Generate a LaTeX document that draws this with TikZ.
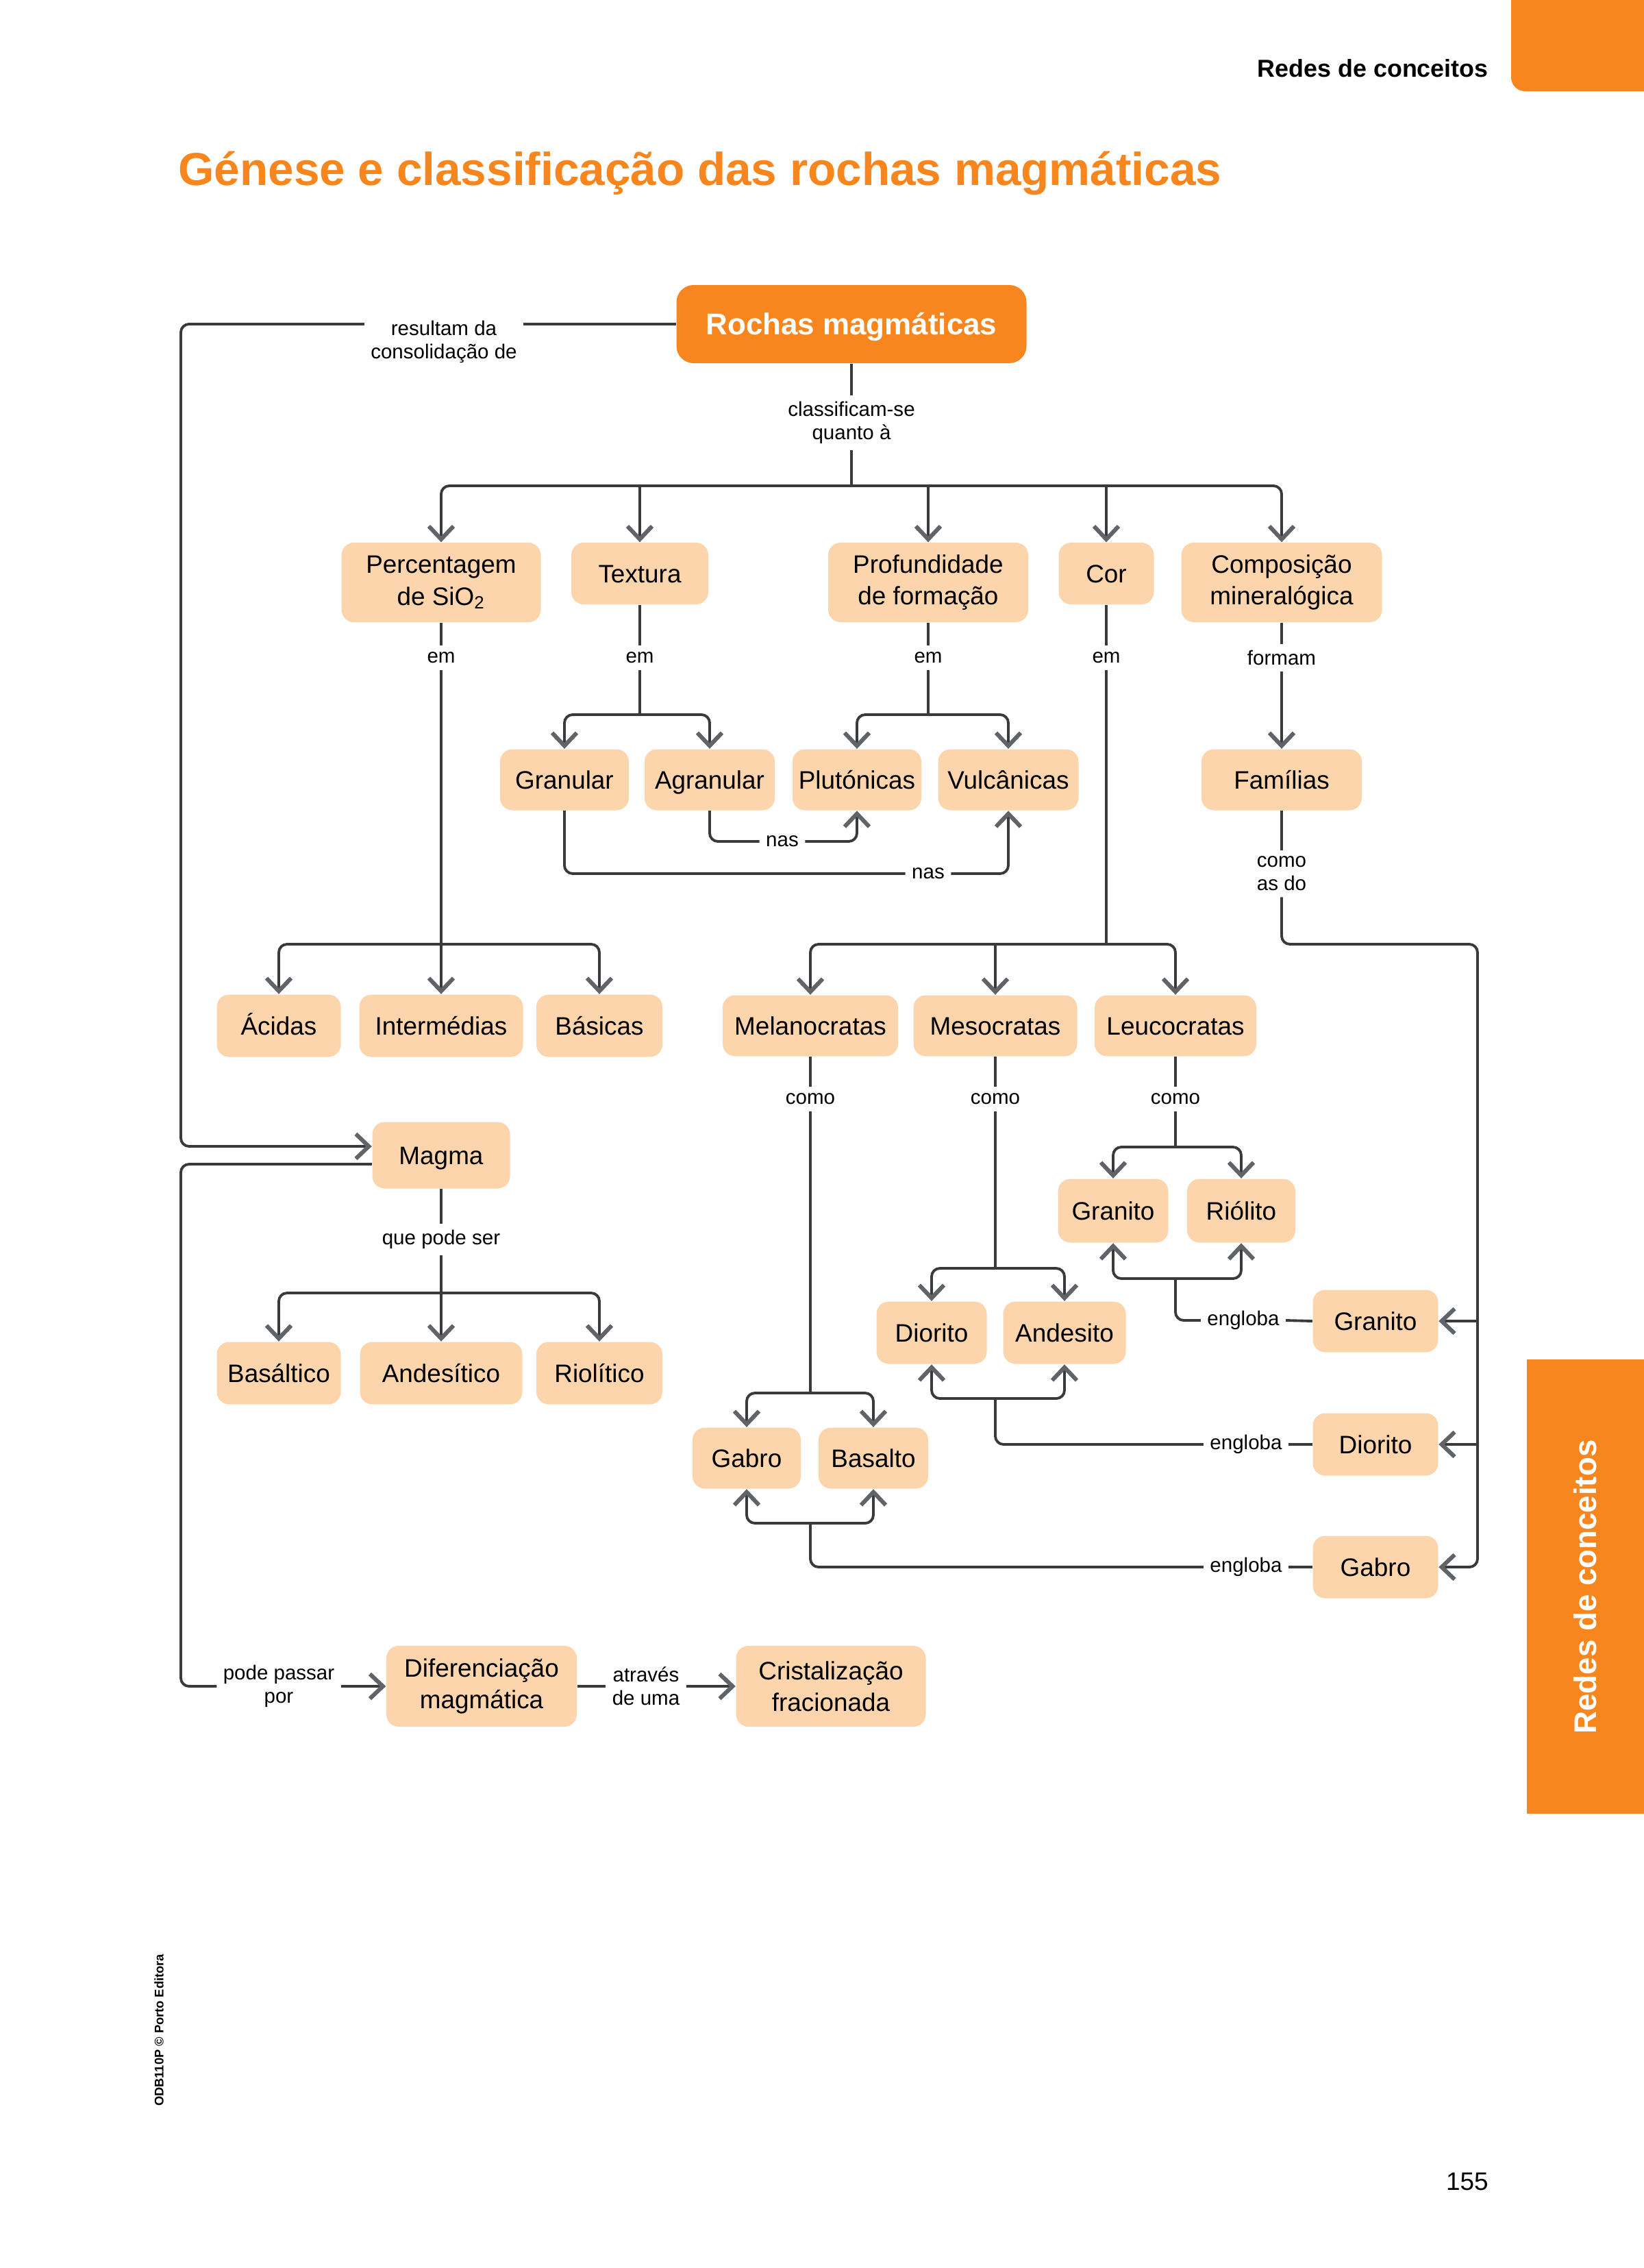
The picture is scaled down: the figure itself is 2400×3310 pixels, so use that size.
\documentclass[tikz,border=0pt]{standalone}
\usepackage{fontspec}
\setmainfont{Liberation Sans}
\usetikzlibrary{arrows.meta,calc}
\definecolor{orng}{RGB}{247,134,31}
\definecolor{peach}{RGB}{253,213,172}
\definecolor{lineC}{RGB}{58,58,60}
\definecolor{arrC}{RGB}{96,99,103}
\begin{document}
\begin{tikzpicture}[x=0.1mm,y=-0.1mm,
  box/.style={fill=peach, rounded corners=1.8mm, align=center, inner sep=0pt, font=\fontsize{10.5}{13.2}\selectfont},
  one/.style={box, text height=7.6pt, text depth=0pt},
  sz/.style 2 args={minimum width=#1*0.1mm, minimum height=#2*0.1mm},
  lbl/.style={align=center, inner sep=2.5pt, font=\fontsize{8.4}{9.6}\selectfont},
  ln/.style={draw=lineC, line width=1.1pt, rounded corners=1.2mm},
  arr/.style={ln, -{Straight Barb[length=1.9mm, width=3.6mm, line width=1.7pt, color=arrC]}},
  sarr/.style={arr, sharp corners},
]
\useasboundingbox (0,0) rectangle (2400,3310);
% page decorations
\fill[orng, rounded corners=2mm] (2206,-60) rectangle (2460,133);
\node[anchor=base east, font=\fontsize{10.2}{12}\selectfont\bfseries] (hdr) at (2185,112) {Redes de conceitos};
\node[anchor=base west, text=orng, font=\fontsize{19.2}{22}\selectfont\bfseries] (title) at (248,270) {Génese e classificação das rochas magmáticas};
\fill[orng] (2229,1984) rectangle (2400,2647);
\node[rotate=90, text=white, font=\fontsize{13}{15}\selectfont\bfseries] (side) at (2314,2316) {Redes de conceitos};
\node[rotate=90, font=\fontsize{5.2}{6}\selectfont\bfseries] (cr) at (232,2963) {ODB110P © Porto Editora};
\node[anchor=base east, font=\fontsize{10.5}{12}\selectfont] (pg) at (2185,3196) {155};

% main node
\node[fill=orng, rounded corners=2.5mm, sz={511}{114}, text=white, font=\fontsize{12.5}{15}\selectfont\bfseries, text height=9pt, text depth=0pt] (rochas) at (1243,473) {Rochas magmáticas};

% level 2
\node[box, sz={291}{116}] (perc) at (644,850) {Percentagem\\de SiO\textsubscript{2}};
\node[one, sz={200}{90}] (textura) at (934,837) {Textura};
\node[box, sz={292}{116}] (prof) at (1355,850) {Profundidade\\de formação};
\node[one, sz={139}{90}] (cor) at (1615,837) {Cor};
\node[box, sz={293}{116}] (comp) at (1871,850) {Composição\\mineralógica};

% level 3
\node[one, sz={188}{89}] (granular) at (824,1138) {Granular};
\node[one, sz={190}{89}] (agranular) at (1036,1138) {Agranular};
\node[one, sz={188}{89}] (plut) at (1251,1138) {Plutónicas};
\node[one, sz={205}{89}] (vulc) at (1472,1138) {Vulcânicas};
\node[one, sz={234}{89}] (fam) at (1871,1138) {Famílias};

% level 4
\node[one, sz={181}{91}] (acidas) at (407,1497) {Ácidas};
\node[one, sz={239}{91}] (interm) at (644,1497) {Intermédias};
\node[one, sz={184}{91}] (basicas) at (875,1497) {Básicas};
\node[one, sz={256}{89}] (mela) at (1183,1497) {Melanocratas};
\node[one, sz={239}{89}] (meso) at (1453,1497) {Mesocratas};
\node[one, sz={236}{89}] (leuco) at (1716,1497) {Leucocratas};

% magma
\node[one, sz={201}{97}] (magma) at (644,1686) {Magma};
\node[one, sz={181}{91}] (basaltico) at (407,2004) {Basáltico};
\node[one, sz={237}{91}] (andesitico) at (644,2004) {Andesítico};
\node[one, sz={184}{91}] (riolitico) at (875,2004) {Riolítico};

% rocks
\node[one, sz={161}{93}] (granito) at (1625,1767) {Granito};
\node[one, sz={158}{93}] (riolito) at (1812,1767) {Riólito};
\node[one, sz={161}{91}] (diorito) at (1360,1945) {Diorito};
\node[one, sz={179}{91}] (andesito) at (1554,1945) {Andesito};
\node[one, sz={158}{89}] (gabro) at (1090,2128) {Gabro};
\node[one, sz={160}{89}] (basalto) at (1275,2128) {Basalto};
\node[one, sz={183}{91}] (granitoR) at (2008,1928) {Granito};
\node[one, sz={183}{91}] (dioritoR) at (2008,2108) {Diorito};
\node[one, sz={183}{91}] (gabroR) at (2008,2287) {Gabro};

% bottom
\node[box, sz={278}{118}] (dif) at (703,2461) {Diferenciação\\magmática};
\node[box, sz={277}{118}] (crist) at (1213,2461) {Cristalização\\fracionada};

% labels
\node[lbl, anchor=north] (lblRes) at (648,459) {resultam da\\consolidação de};
\node[lbl] (lblClass) at (1243,617) {classificam-se\\quanto à};
\node[lbl] (lblEm1) at (644,960) {em};
\node[lbl] (lblEm2) at (934,960) {em};
\node[lbl] (lblEm3) at (1355,960) {em};
\node[lbl] (lblEm4) at (1615,960) {em};
\node[lbl] (lblFormam) at (1871,960) {formam};
\node[lbl] (lblNas1) at (1142,1228) {nas};
\node[lbl] (lblNas2) at (1355,1275) {nas};
\node[lbl] (lblComo0) at (1871,1275) {como\\as do};
\node[lbl] (lblComo1) at (1183,1604) {como};
\node[lbl] (lblComo2) at (1453,1604) {como};
\node[lbl] (lblComo3) at (1716,1604) {como};
\node[lbl] (lblQue) at (644,1809) {que pode ser};
\node[lbl] (lblEng1) at (1815,1927) {engloba};
\node[lbl] (lblEng2) at (1819,2108) {engloba};
\node[lbl] (lblEng3) at (1819,2287) {engloba};
\node[lbl] (lblPode) at (407,2461) {pode passar\\por};
\node[lbl] (lblAtr) at (943,2461) {através\\de uma};

% junction coordinates
\coordinate (j1) at (1243,709);
\coordinate (jPerc) at (644,1378);
\coordinate (jText) at (934,1043);
\coordinate (jProf) at (1355,1043);
\coordinate (jCor) at (1615,1378);
\coordinate (jFam) at (2157,1378);
\coordinate (jLeu) at (1716,1674);
\coordinate (jMes) at (1453,1851);
\coordinate (jMel) at (1183,2033);
\coordinate (jMag) at (644,1887);
\coordinate (e1) at (1716,1866);
\coordinate (e2) at (1453,2041);
\coordinate (e3) at (1183,2223);
\coordinate (lx) at (264,0);
\coordinate (mIn) at ($(magma.west)+(0,-13)$);
\coordinate (mOut) at ($(magma.west)+(0,13)$);

% resultam da consolidação
\draw[ln] (rochas.west) -- (rochas.west -| lblRes.east);
\draw[arr] (rochas.west -| lblRes.west) -| (lx |- mIn) -- (mIn);
% magma -> diferenciação
\draw[ln] (mOut) -| (lx |- lblPode) -- (lblPode.west);
\draw[arr] (lblPode.east) -- (dif.west);
\draw[ln] (dif.east) -- (lblAtr.west);
\draw[arr] (lblAtr.east) -- (crist.west);

% classificam-se
\draw[ln] (rochas.south) -- (lblClass.north);
\draw[ln] (lblClass.south) -- (j1);
\draw[arr] (j1) -| (perc.north);
\draw[sarr] (j1) -| (textura.north);
\draw[sarr] (j1) -| (prof.north);
\draw[sarr] (j1) -| (cor.north);
\draw[arr] (j1) -| (comp.north);

% percentagem
\draw[ln] (perc.south) -- (lblEm1.north);
\draw[arr] (lblEm1.south) -- (interm.north);
\draw[arr] (jPerc) -| (acidas.north);
\draw[arr] (jPerc) -| (basicas.north);

% textura
\draw[ln] (textura.south) -- (lblEm2.north);
\draw[ln] (lblEm2.south) -- (jText);
\draw[arr] (jText) -| (granular.north);
\draw[arr] (jText) -| (agranular.north);

% profundidade
\draw[ln] (prof.south) -- (lblEm3.north);
\draw[ln] (lblEm3.south) -- (jProf);
\draw[arr] (jProf) -| (plut.north);
\draw[arr] (jProf) -| (vulc.north);

% nas
\draw[ln] (agranular.south) |- (lblNas1.west);
\draw[arr] (lblNas1.east) -| (plut.south);
\draw[ln] (granular.south) |- (lblNas2.west);
\draw[arr] (lblNas2.east) -| (vulc.south);

% cor
\draw[ln] (cor.south) -- (lblEm4.north);
\draw[ln] (lblEm4.south) -- (jCor);
\draw[arr] (jCor) -| (mela.north);
\draw[sarr] (jCor) -| (meso.north);
\draw[arr] (jCor) -| (leuco.north);

% composição
\draw[ln] (comp.south) -- (lblFormam.north);
\draw[arr] (lblFormam.south) -- (fam.north);
\draw[ln] (fam.south) -- (lblComo0.north);
\draw[arr] (lblComo0.south) |- (jFam) |- (gabroR.east);
\draw[sarr] (jFam |- granitoR.east) -- (granitoR.east);
\draw[sarr] (jFam |- dioritoR.east) -- (dioritoR.east);

% leucocratas
\draw[ln] (leuco.south) -- (lblComo3.north);
\draw[ln] (lblComo3.south) -- (jLeu);
\draw[arr] (jLeu) -| (granito.north);
\draw[arr] (jLeu) -| (riolito.north);
% mesocratas
\draw[ln] (meso.south) -- (lblComo2.north);
\draw[ln] (lblComo2.south) -- (jMes);
\draw[arr] (jMes) -| (diorito.north);
\draw[arr] (jMes) -| (andesito.north);
% melanocratas
\draw[ln] (mela.south) -- (lblComo1.north);
\draw[ln] (lblComo1.south) -- (jMel);
\draw[arr] (jMel) -| (gabro.north);
\draw[arr] (jMel) -| (basalto.north);

% engloba
\draw[ln] (granitoR.west) -- (lblEng1.east);
\draw[ln] (lblEng1.west) -| (e1);
\draw[arr] (e1) -| (granito.south);
\draw[arr] (e1) -| (riolito.south);
\draw[ln] (dioritoR.west) -- (lblEng2.east);
\draw[ln] (lblEng2.west) -| (e2);
\draw[arr] (e2) -| (diorito.south);
\draw[arr] (e2) -| (andesito.south);
\draw[ln] (gabroR.west) -- (lblEng3.east);
\draw[ln] (lblEng3.west) -| (e3);
\draw[arr] (e3) -| (gabro.south);
\draw[arr] (e3) -| (basalto.south);

% magma
\draw[ln] (magma.south) -- (lblQue.north);
\draw[arr] (lblQue.south) -- (andesitico.north);
\draw[arr] (jMag) -| (basaltico.north);
\draw[arr] (jMag) -| (riolitico.north);
\end{tikzpicture}
\end{document}
